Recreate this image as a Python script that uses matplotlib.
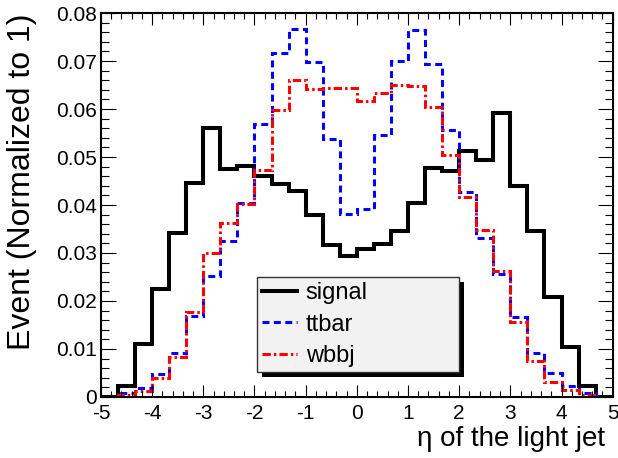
import numpy as np
import matplotlib
matplotlib.use("Agg")
import matplotlib.pyplot as plt
from matplotlib.patches import Rectangle
from matplotlib.ticker import MultipleLocator, FuncFormatter

plt.rcParams['font.family'] = ['Liberation Sans', 'DejaVu Sans']
plt.rcParams['axes.unicode_minus'] = False
plt.rcParams['lines.scale_dashes'] = False

# 30 bins in eta between -5 and 5
eta_min, eta_max, n_bins = -5.0, 5.0, 30

signal = [0.0, 0.0023, 0.0110, 0.0225, 0.0342, 0.0445, 0.0561, 0.0476, 0.0482, 0.0460,
          0.0443, 0.0429, 0.0380, 0.0317, 0.0294, 0.0308, 0.0319, 0.0345, 0.0404, 0.0478,
          0.0470, 0.0512, 0.0493, 0.0591, 0.0439, 0.0345, 0.0208, 0.0105, 0.0022, 0.0]
ttbar = [0.0, 0.0008, 0.0019, 0.0048, 0.0092, 0.0169, 0.0253, 0.0324, 0.0404, 0.0568,
         0.0716, 0.0766, 0.0697, 0.0537, 0.0382, 0.0392, 0.0546, 0.0700, 0.0765, 0.0694,
         0.0557, 0.0427, 0.0331, 0.0257, 0.0166, 0.0091, 0.0049, 0.0022, 0.0008, 0.0]
wbbj = [0.0, 0.0004, 0.0013, 0.0040, 0.0084, 0.0178, 0.0299, 0.0363, 0.0403, 0.0472,
        0.0597, 0.0660, 0.0642, 0.0644, 0.0643, 0.0617, 0.0634, 0.0651, 0.0648, 0.0604,
        0.0504, 0.0417, 0.0347, 0.0262, 0.0157, 0.0074, 0.0032, 0.0015, 0.0004, 0.0]

labels = ["signal", "ttbar", "wbbj"]
edges = np.linspace(eta_min, eta_max, n_bins + 1)

fig = plt.figure(figsize=(6.18, 4.58), dpi=100)
ax = fig.add_axes([0.1634, 0.1332, 0.8280, 0.8384])

h_sig = ax.stairs(signal, edges, color='black', linewidth=2.9, label=labels[0])
h_tt = ax.stairs(ttbar, edges, color='#0000ff', linewidth=2.2, label=labels[1])
h_tt.set_linestyle((0, (5.0, 3.2)))
h_wb = ax.stairs(wbbj, edges, color='#ff0000', linewidth=2.2, label=labels[2])
h_wb.set_linestyle((0, (6.0, 2.2, 1.8, 2.2)))

ax.set_xlim(eta_min, eta_max)
ax.set_ylim(0, 0.08)

ax.xaxis.set_major_locator(MultipleLocator(1))
ax.xaxis.set_minor_locator(MultipleLocator(0.2))
ax.yaxis.set_major_locator(MultipleLocator(0.01))
ax.yaxis.set_minor_locator(MultipleLocator(0.002))
ax.yaxis.set_major_formatter(FuncFormatter(lambda v, p: "0" if abs(v) < 1e-9 else f"{v:.2f}"))
ax.xaxis.set_major_formatter(FuncFormatter(lambda v, p: f"{int(round(v))}"))

ax.tick_params(axis='both', which='both', direction='in', top=True, right=True,
               width=0.8, labelsize=15)
ax.tick_params(axis='x', which='major', length=8.3, pad=5)
ax.tick_params(axis='x', which='minor', length=4.1)
ax.tick_params(axis='y', which='major', length=11, pad=3)
ax.tick_params(axis='y', which='minor', length=5.5)
for s in ax.spines.values():
    s.set_linewidth(1.5)

ax.set_xlabel("η of the light jet", fontsize=20, loc='right')
ax.xaxis.set_label_coords(0.985, -0.075)
ax.set_ylabel("Event (Normalized to 1)", fontsize=23, loc='top')
ax.yaxis.set_label_coords(-0.125, 1.0)

leg = ax.legend(handles=[h_sig, h_tt, h_wb], labels=labels,
                loc='lower left', bbox_to_anchor=(0.3055, 0.0659, 0.394, 0.252),
                mode='expand', fontsize=17, frameon=True, fancybox=False,
                edgecolor='#333333', facecolor='#f2f2f2', framealpha=1,
                handlelength=1.5, handletextpad=0.35, labelspacing=0.4,
                borderpad=0.2, borderaxespad=0)
leg.get_frame().set_linewidth(1.0)
leg.set_zorder(6)

# drop shadow under the legend box
fig.canvas.draw()
bb = leg.get_frame().get_window_extent().transformed(fig.transFigure.inverted())
dx, dy = 5 / 618, 5 / 458
ax.add_artist(Rectangle((bb.x0 + dx, bb.y0 - dy), bb.width, bb.height,
                        transform=fig.transFigure, facecolor='black',
                        edgecolor='none', zorder=4.5, clip_on=False))

fig.savefig("out.png", dpi=100, facecolor='white')
